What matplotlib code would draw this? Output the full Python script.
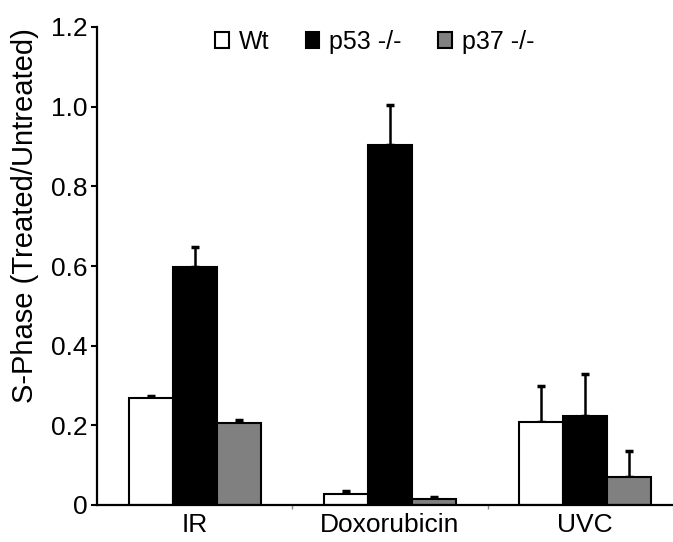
import numpy as np
import matplotlib
matplotlib.use("Agg")
from matplotlib import pyplot as plt

plt.rcParams['font.family'] = ['Liberation Sans', 'DejaVu Sans']

treatments = ["IR", "Doxorubicin", "UVC"]
series = ["Wt", "p53 -/-", "p37 -/-"]
wt = [0.268, 0.028, 0.208]
wt_err = [0.005, 0.007, 0.092]
p53 = [0.597, 0.903, 0.223]
p53_err = [0.050, 0.102, 0.105]
p37 = [0.205, 0.015, 0.071]
p37_err = [0.008, 0.004, 0.064]

colors = ["white", "black", "#808080"]

fig = plt.figure(figsize=(6.73, 5.42), dpi=100)
ax = fig.add_axes([97/673, 37/542, 1 - 97/673, (505 - 27)/542])

x = np.arange(1, len(treatments) + 1)
w = 0.225
for i, (vals, errs) in enumerate([(wt, wt_err), (p53, p53_err), (p37, p37_err)]):
    pos = x + (i - 1) * w
    ax.bar(pos, vals, w, color=colors[i], edgecolor="black", linewidth=1.5,
           label=series[i], zorder=2)
    ax.errorbar(pos, vals, yerr=[np.zeros(len(vals)), errs], fmt="none",
                ecolor="black", elinewidth=1.8, capsize=3, capthick=2.5, zorder=1)

ax.set_xlim(0.5, 3.45)
ax.set_ylim(0, 1.2)
ax.set_yticks([0, 0.2, 0.4, 0.6, 0.8, 1.0, 1.2])
ax.set_yticklabels(["0", "0.2", "0.4", "0.6", "0.8", "1.0", "1.2"])
ax.set_xticks(x)
ax.set_xticklabels(treatments)
ax.set_xticks([1.5, 2.5], minor=True)
ax.tick_params(axis="x", which="major", length=0, pad=6, labelsize=19)
ax.tick_params(axis="x", which="minor", length=3, width=1, color="#888888")
ax.tick_params(axis="y", length=4, width=1.5, pad=3, labelsize=19)

for s in ["top", "right"]:
    ax.spines[s].set_visible(False)
for s in ["left", "bottom"]:
    ax.spines[s].set_linewidth(1.6)

ax.set_ylabel("S-Phase (Treated/Untreated)", fontsize=21)
ax.yaxis.set_label_coords(-0.1, 0.605)

ax.legend(loc="upper center", bbox_to_anchor=(0.482, 1.015), ncol=3, frameon=False,
          fontsize=18, handlelength=0.55, handleheight=0.55, handletextpad=0.4,
          columnspacing=1.45, borderaxespad=0.0)

fig.savefig("out.png", dpi=100)
